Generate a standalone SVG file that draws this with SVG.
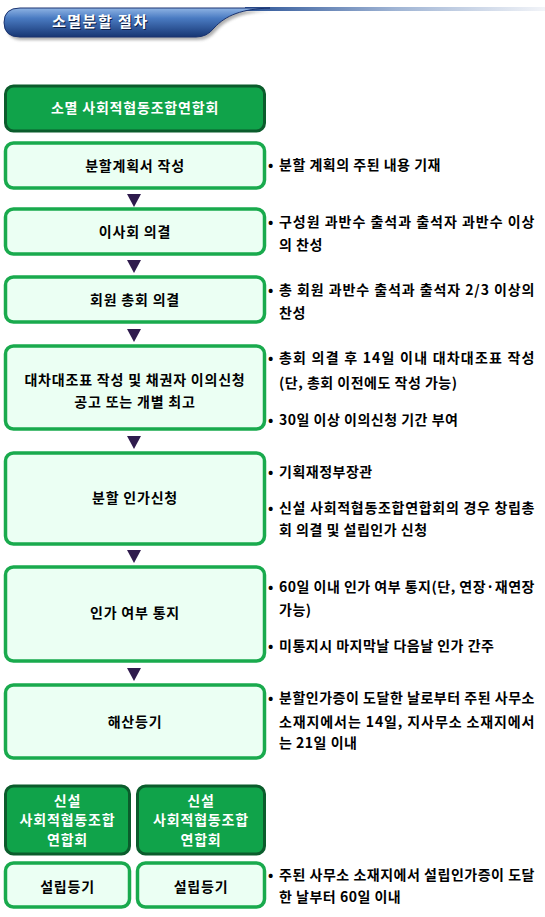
<svg xmlns="http://www.w3.org/2000/svg" width="545" height="917" viewBox="0 0 545 917">
<defs>
<linearGradient id="hb" x1="0" y1="0" x2="0" y2="1">
<stop offset="0" stop-color="#8fb4e4"/>
<stop offset="0.35" stop-color="#4a7bc2"/>
<stop offset="1" stop-color="#173673"/>
</linearGradient>
<linearGradient id="hl" x1="0" y1="0" x2="1" y2="0">
<stop offset="0" stop-color="#2d5598"/>
<stop offset="0.5" stop-color="#9fb4d4"/>
<stop offset="1" stop-color="#f2f4f8"/>
</linearGradient>
<filter id="sh" x="-10%" y="-30%" width="120%" height="180%">
<feGaussianBlur stdDeviation="1.5"/>
</filter>
</defs>
<style>
.dk{fill:#10a34a;stroke:#0b5c2c;stroke-width:3}
.lt{fill:#ebfff3;stroke:#19aa4d;stroke-width:3.5}
.bt{font-family:"Noto Sans CJK KR","Noto Sans",sans-serif;font-weight:bold;font-size:14px;letter-spacing:0.8px;text-anchor:middle;fill:#000}
.wt{fill:#fff}
.rt{font-family:"Noto Sans CJK KR","Noto Sans",sans-serif;font-weight:bold;font-size:14px;letter-spacing:0.5px;fill:#000}
.ar{fill:#2f1b4d}
</style>
<rect width="545" height="917" fill="#fff"/>
<g id="header">
<path d="M22 11 L272 11 C244 12 228 18 216 31 Q209 40 198 40 L22 40 Q7 40 7 25.5 Q7 11 22 11 Z" fill="#777" opacity="0.6" filter="url(#sh)"/>
<rect x="245" y="7" width="300" height="4" fill="url(#hl)"/>
<path d="M20 8 L270 8 C242 9 226 15 214 28 Q207 37 196 37 L20 37 Q4 37 4 22.5 Q4 8 20 8 Z" fill="url(#hb)" stroke="#1a3370" stroke-width="1"/>
<text x="53" y="28" font-family="'Noto Sans CJK KR',sans-serif" font-weight="bold" font-size="15" letter-spacing="1.5" fill="#0d1f45">소멸분할 절차</text>
<text x="52" y="27" font-family="'Noto Sans CJK KR',sans-serif" font-weight="bold" font-size="15" letter-spacing="1.5" fill="#fff">소멸분할 절차</text>
</g>
<g id="n1"><rect class="dk" x="5.5" y="86" width="259" height="45" rx="8"/><text class="bt wt" x="135" y="113">소멸 사회적협동조합연합회</text></g>
<g id="n2"><rect class="lt" x="5.5" y="143" width="259" height="45" rx="8"/><text class="bt" x="135" y="171">분할계획서 작성</text></g>
<g id="n3"><rect class="lt" x="5.5" y="209" width="259" height="45" rx="8"/><text class="bt" x="135" y="237">이사회 의결</text></g>
<g id="n4"><rect class="lt" x="5.5" y="277" width="259" height="45" rx="8"/><text class="bt" x="135" y="305">회원 총회 의결</text></g>
<g id="n5"><rect class="lt" x="5.5" y="346" width="259" height="83" rx="8"/><text class="bt" x="135" y="385">대차대조표 작성 및 채권자 이의신청</text><text class="bt" x="135" y="407">공고 또는 개별 최고</text></g>
<g id="n6"><rect class="lt" x="5.5" y="453" width="259" height="91" rx="8"/><text class="bt" x="135" y="503">분할 인가신청</text></g>
<g id="n7"><rect class="lt" x="5.5" y="567" width="259" height="94" rx="8"/><text class="bt" x="135" y="618">인가 여부 통지</text></g>
<g id="n8"><rect class="lt" x="5.5" y="685" width="259" height="73" rx="8"/><text class="bt" x="135" y="727">해산등기</text></g>
<g id="n9"><rect class="dk" x="5.5" y="786" width="124" height="68" rx="8"/><text class="bt wt" x="67.5" y="806">신설</text><text class="bt wt" x="67.5" y="825">사회적협동조합</text><text class="bt wt" x="67.5" y="845">연합회</text></g>
<g id="n10"><rect class="dk" x="137.5" y="786" width="127" height="68" rx="8"/><text class="bt wt" x="201" y="806">신설</text><text class="bt wt" x="201" y="825">사회적협동조합</text><text class="bt wt" x="201" y="845">연합회</text></g>
<g id="n11"><rect class="lt" x="5.5" y="863" width="124" height="44" rx="8"/><text class="bt" x="67.5" y="892">설립등기</text></g>
<g id="n12"><rect class="lt" x="137.5" y="863" width="127" height="44" rx="8"/><text class="bt" x="201" y="892">설립등기</text></g>
<g id="connectors">
<polygon class="ar" points="127,194 141,194 134,207"/>
<polygon class="ar" points="127,260 141,260 134,273"/>
<polygon class="ar" points="127,329 141,329 134,342"/>
<polygon class="ar" points="127,436 141,436 134,449"/>
<polygon class="ar" points="127,550 141,550 134,563"/>
<polygon class="ar" points="127,668 141,668 134,681"/>
</g>
<g id="notes" class="rt">
<text x="268" y="170">•</text><text x="279" y="170">분할 계획의 주된 내용 기재</text>
<text x="268" y="227">•</text><text x="279" y="227" textLength="256" lengthAdjust="spacing">구성원 과반수 출석과 출석자 과반수 이상</text>
<text x="279" y="250">의 찬성</text>
<text x="268" y="295">•</text><text x="279" y="295" textLength="256" lengthAdjust="spacing">총 회원 과반수 출석과 출석자 2/3 이상의</text>
<text x="279" y="318">찬성</text>
<text x="268" y="363">•</text><text x="279" y="363" textLength="256" lengthAdjust="spacing">총회 의결 후 14일 이내 대차대조표 작성</text>
<text x="279" y="388">(단, 총회 이전에도 작성 가능)</text>
<text x="268" y="425">•</text><text x="279" y="425">30일 이상 이의신청 기간 부여</text>
<text x="268" y="477">•</text><text x="279" y="477">기획재정부장관</text>
<text x="268" y="513">•</text><text x="279" y="513" textLength="256" lengthAdjust="spacing">신설 사회적협동조합연합회의 경우 창립총</text>
<text x="279" y="535">회 의결 및 설립인가 신청</text>
<text x="268" y="592">•</text><text x="279" y="592" textLength="256" lengthAdjust="spacing">60일 이내 인가 여부 통지(단, 연장·재연장</text>
<text x="279" y="615">가능)</text>
<text x="268" y="651">•</text><text x="279" y="651">미통지시 마지막날 다음날 인가 간주</text>
<text x="268" y="703">•</text><text x="279" y="703" textLength="256" lengthAdjust="spacing">분할인가증이 도달한 날로부터 주된 사무소</text>
<text x="279" y="727" textLength="256" lengthAdjust="spacing">소재지에서는  14일, 지사무소 소재지에서</text>
<text x="279" y="748">는 21일 이내</text>
<text x="268" y="880">•</text><text x="279" y="880" textLength="256" lengthAdjust="spacing">주된 사무소 소재지에서 설립인가증이 도달</text>
<text x="279" y="902">한 날부터 60일 이내</text>
</g>
</svg>
